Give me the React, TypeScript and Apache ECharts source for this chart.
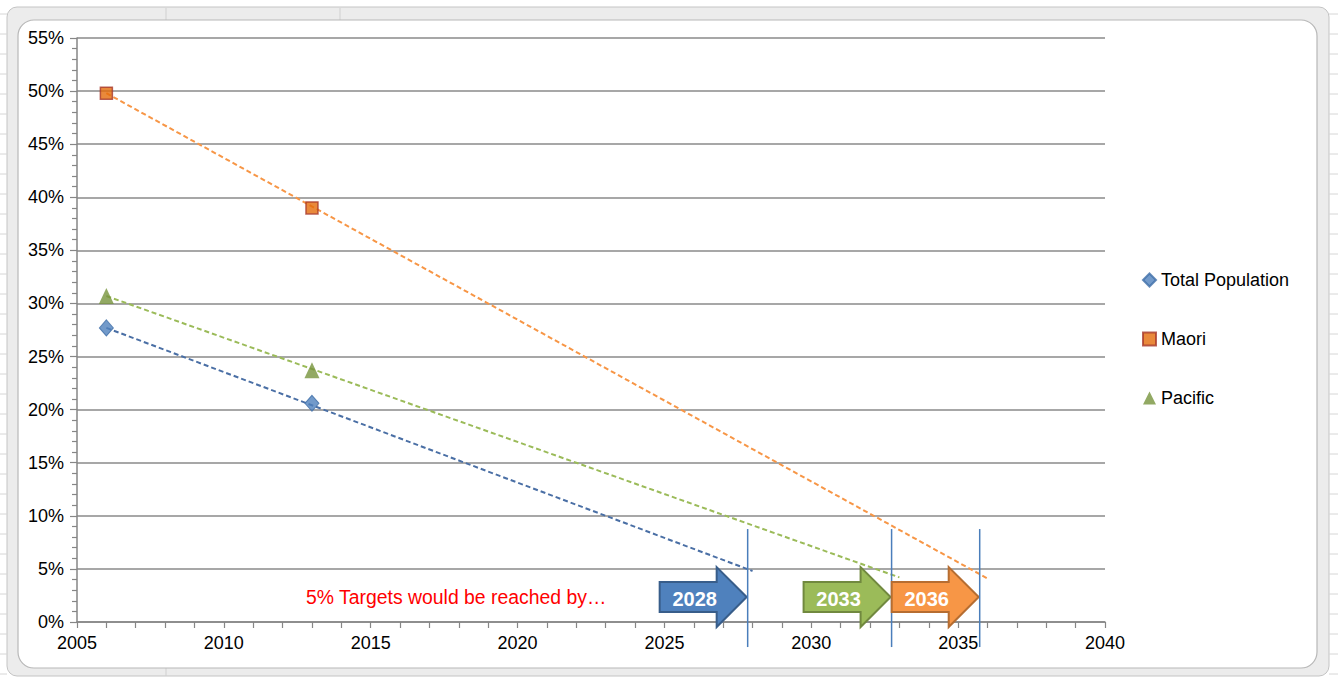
import React, { useEffect, useRef } from "react";
import * as echarts from "echarts";

// ---- data ----
const seriesNames = ["Total Population", "Maori", "Pacific"];
const years = [2006, 2013];
const totalValues = [27.7, 20.6];
const maoriValues = [49.8, 39.0];
const pacificValues = [30.7, 23.7];

// trend-line end points (year, %)
const totalTrend = [[2006, 27.7], [2028, 4.8]];
const maoriTrend = [[2006, 49.8], [2036, 4.1]];
const pacificTrend = [[2006, 30.7], [2033, 4.2]];

// target annotations: year at which the arrow tip / marker line sits, level (%) of arrow
const targetYears = [2027.8, 2032.7, 2035.7];
const targetLevel = 2.35;
const targetLabels = ["2028", "2033", "2036"];
const noteText = "5% Targets would be reached by\u2026";

const FONT = "Liberation Sans, Arial, sans-serif";

const arrowFill = ["#4f81bd", "#9bbb59", "#f79646"];
const arrowStroke = ["#385d8a", "#71893f", "#b66d31"];

export default function App() {
  const ref = useRef<HTMLDivElement>(null);
  useEffect(() => {
    if (!ref.current) return;
    const chart = echarts.init(ref.current, null, { renderer: "svg" });

    const bandLines: any[] = [];
    for (let y = 14; y < 680; y += 20) {
      bandLines.push({ type: "line", z: -9, shape: { x1: 0, y1: y, x2: 7, y2: y }, style: { stroke: "#d6d6d6", lineWidth: 1 } });
      bandLines.push({ type: "line", z: -9, shape: { x1: 1329, y1: y, x2: 1338, y2: y }, style: { stroke: "#d6d6d6", lineWidth: 1 } });
    }

    chart.setOption({
      animation: false,
      textStyle: { fontFamily: FONT },
      grid: { left: 77, right: 233, top: 38, bottom: 58, outerBoundsMode: "none" } as any,
      graphic: [
        { type: "rect", z: -10, shape: { x: 7, y: 7, width: 1322, height: 669, r: 10 }, style: { fill: "#ececec", stroke: "#c4c4c4", lineWidth: 1 } },
        ...bandLines,
        { type: "line", z: -9, shape: { x1: 166, y1: 8, x2: 166, y2: 20 }, style: { stroke: "#d0d0d0" } },
        { type: "line", z: -9, shape: { x1: 340, y1: 8, x2: 340, y2: 20 }, style: { stroke: "#d0d0d0" } },
        { type: "line", z: -9, shape: { x1: 166, y1: 668, x2: 166, y2: 676 }, style: { stroke: "#d0d0d0" } },
        { type: "rect", z: -8, shape: { x: 18, y: 20, width: 1299, height: 648, r: 16 }, style: { fill: "#ffffff", stroke: "#b8b8b8", lineWidth: 1.2 } },
        {
          type: "text",
          left: 306,
          top: 587,
          z: 5,
          style: { text: noteText, fill: "#ff0000", font: `19.4px ${FONT}` },
        },
      ],
      legend: {
        data: seriesNames,
        orient: "vertical",
        left: 1137,
        top: 266,
        itemGap: 41,
        itemWidth: 13,
        itemHeight: 13,
        textStyle: { fontSize: 18, color: "#000", fontFamily: FONT, lineHeight: 18 },
      },
      xAxis: {
        type: "value",
        min: 2005,
        max: 2040,
        interval: 5,
        axisLine: { show: true, onZero: false, lineStyle: { color: "#868686", width: 1.5 } },
        axisTick: { show: true, length: 6, lineStyle: { color: "#868686", width: 1.2 } },
        minorTick: { show: true, splitNumber: 5, length: 6, lineStyle: { color: "#868686", width: 1.2 } },
        splitLine: { show: false },
        axisLabel: {
          fontSize: 18,
          color: "#000",
          margin: 12,
          fontFamily: FONT,
          formatter: (v: number) => String(v),
        },
      },
      yAxis: {
        type: "value",
        min: 0,
        max: 55,
        interval: 5,
        axisLine: { show: true, lineStyle: { color: "#868686", width: 1.5 } },
        axisTick: { show: true, length: 7, lineStyle: { color: "#868686", width: 1.2 } },
        minorTick: { show: true, splitNumber: 5, length: 5, lineStyle: { color: "#868686", width: 1.2 } },
        splitLine: { show: true, lineStyle: { color: "#8a8a8a", width: 1.5 } },
        axisLabel: { fontSize: 18, color: "#000", margin: 13, formatter: "{value}%", fontFamily: FONT },
      },
      series: [
        {
          name: "Total Population trend",
          type: "line",
          data: totalTrend,
          symbol: "none",
          silent: true,
          z: 3,
          lineStyle: { color: "#4a6fa5", width: 2, type: [5, 3] },
        },
        {
          name: "Maori trend",
          type: "line",
          data: maoriTrend,
          symbol: "none",
          silent: true,
          z: 3,
          lineStyle: { color: "#f79646", width: 2, type: [5, 3] },
        },
        {
          name: "Pacific trend",
          type: "line",
          data: pacificTrend,
          symbol: "none",
          silent: true,
          z: 3,
          lineStyle: { color: "#9bbb59", width: 2, type: [5, 3] },
        },
        {
          name: seriesNames[0],
          type: "scatter",
          data: years.map((y, i) => [y, totalValues[i]]),
          symbol: "diamond",
          symbolSize: [14, 16],
          z: 5,
          itemStyle: { color: "#4f81bd", borderColor: "#3f6ea8", borderWidth: 1 },
        },
        {
          name: seriesNames[1],
          type: "scatter",
          data: years.map((y, i) => [y, maoriValues[i]]),
          symbol: "rect",
          symbolSize: 12,
          z: 5,
          itemStyle: { color: "#e46c0a", borderColor: "#a8392c", borderWidth: 1.5 },
        },
        {
          name: seriesNames[2],
          type: "scatter",
          data: years.map((y, i) => [y, pacificValues[i]]),
          symbol: "triangle",
          symbolSize: [15, 16],
          z: 5,
          itemStyle: { color: "#77933c" },
        },
        {
          name: "targets",
          type: "custom",
          clip: false,
          silent: true,
          z: 6,
          data: targetYears.map((y, i) => [y, targetLevel, i]),
          renderItem: (params: any, api: any) => {
            const i = api.value(2);
            const p = api.coord([api.value(0), api.value(1)]);
            const tx = p[0];
            const ty = p[1];
            const len = 87;
            const head = 30;
            const bh = 15;
            const hh = 30;
            const pts = [
              [tx - len, ty - bh],
              [tx - head, ty - bh],
              [tx - head, ty - hh],
              [tx, ty],
              [tx - head, ty + hh],
              [tx - head, ty + bh],
              [tx - len, ty + bh],
            ];
            return {
              type: "group",
              children: [
                {
                  type: "polygon",
                  shape: { points: pts },
                  style: { fill: arrowFill[i], stroke: arrowStroke[i], lineWidth: 2 },
                },
                {
                  type: "text",
                  style: {
                    text: targetLabels[i],
                    x: tx - 52,
                    y: ty + 2,
                    align: "center",
                    verticalAlign: "middle",
                    fill: "#ffffff",
                    font: `bold 20px ${FONT}`,
                  },
                },
                {
                  type: "line",
                  shape: { x1: tx + 1, y1: ty - 68, x2: tx + 1, y2: ty + 50 },
                  style: { stroke: "#4a7ebb", lineWidth: 1.5 },
                },
              ],
            };
          },
        },
      ],
    });
    return () => chart.dispose();
  }, []);
  return (
    <div
      ref={ref}
      style={{ position: "fixed", left: 0, top: 0, width: 1338, height: 680, background: "#ffffff" }}
    />
  );
}
